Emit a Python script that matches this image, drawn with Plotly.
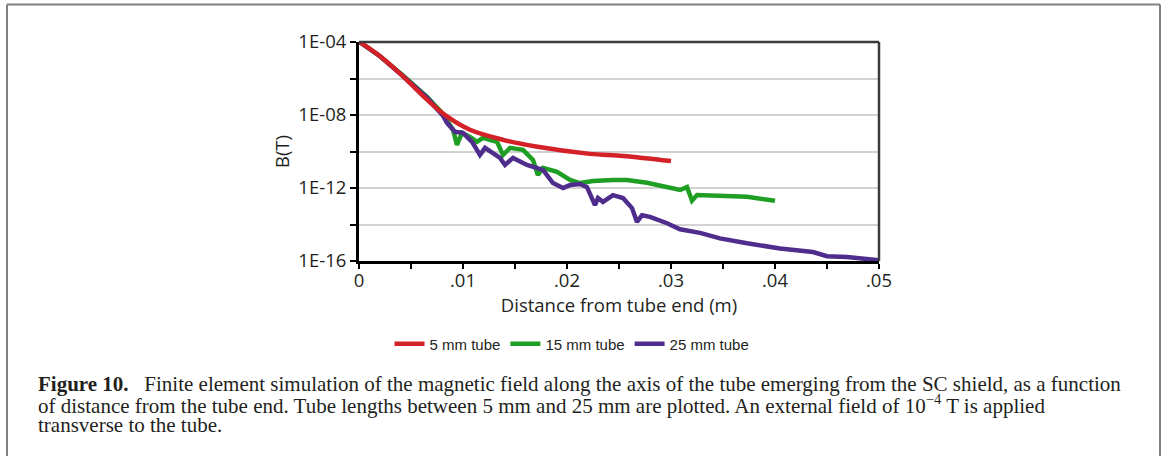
import plotly.graph_objects as go

# ---------------- data ----------------
x_5mm = [0, 0.00202, 0.00423, 0.00654, 0.00846, 0.01067, 0.01385, 0.01702, 0.0222, 0.0254, 0.0300]
b_5mm = [1.05e-4, 1.66e-5, 1.32e-6, 6.92e-8, 8.32e-9, 1.55e-9, 4.37e-10, 1.86e-10, 7.41e-11, 5.75e-11, 3.02e-11]

x_15mm = [0, 0.00202, 0.00423, 0.00654, 0.00808, 0.00875, 0.00904, 0.00942, 0.0099, 0.01067,
          0.01135, 0.01192, 0.01327, 0.01385, 0.01452, 0.01577, 0.01673, 0.0172, 0.01769, 0.01904,
          0.02029, 0.02125, 0.0225, 0.02442, 0.02577, 0.02769, 0.02962, 0.03087, 0.03154, 0.03202,
          0.0325, 0.03471, 0.03731, 0.0400]
b_15mm = [1.05e-4, 1.66e-5, 1.45e-6, 1.0e-7, 1.15e-8, 3.31e-9, 1.55e-9, 2.29e-10, 1.05e-9, 6.31e-10,
          3.39e-10, 5.62e-10, 3.39e-10, 6.46e-11, 1.58e-10, 1.23e-10, 3.47e-11, 5.13e-12, 1.26e-11, 7.59e-12,
          2.75e-12, 1.86e-12, 2.40e-12, 2.75e-12, 2.75e-12, 1.95e-12, 1.17e-12, 7.76e-13, 1.12e-12, 2.0e-13,
          4.07e-13, 3.72e-13, 3.31e-13, 2.0e-13]

x_25mm = [0, 0.00202, 0.00423, 0.00654, 0.00808, 0.00846, 0.00923, 0.0100, 0.01087, 0.01163,
          0.01212, 0.01356, 0.01404, 0.01481, 0.01615, 0.01769, 0.01865, 0.01962, 0.02029, 0.02125,
          0.02192, 0.02269, 0.02298, 0.02346, 0.02442, 0.02538, 0.02625, 0.02673, 0.02721, 0.02798,
          0.02962, 0.03087, 0.03279, 0.03471, 0.03731, 0.04048, 0.04365, 0.0450, 0.04692, 0.0500]
b_25mm = [1.05e-4, 1.66e-5, 1.35e-6, 8.91e-8, 9.12e-9, 3.72e-9, 1.20e-9, 1.05e-9, 3.39e-10, 6.46e-11,
          1.58e-10, 4.47e-11, 1.82e-11, 4.47e-11, 1.82e-11, 9.77e-12, 1.86e-12, 1.0e-12, 1.45e-12, 1.66e-12,
          1.12e-12, 1.15e-13, 2.82e-13, 1.74e-13, 4.07e-13, 2.82e-13, 7.94e-14, 1.38e-14, 3.24e-14, 2.63e-14,
          1.17e-14, 5.50e-15, 3.47e-15, 1.74e-15, 9.33e-16, 4.90e-16, 3.09e-16, 1.82e-16, 1.66e-16, 1.10e-16]

series_names = ["5 mm tube", "15 mm tube", "25 mm tube"]
series_colors = ["#d42027", "#1f9e24", "#4f2d8c"]

y_tickvals = [1e-4, 1e-6, 1e-8, 1e-10, 1e-12, 1e-14, 1e-16]
y_ticktext = ["1E-04", "", "1E-08", "", "1E-12", "", "1E-16"]
x_tickvals = [0, 0.01, 0.02, 0.03, 0.04, 0.05]
x_ticktext = ["0", ".01", ".02", ".03", ".04", ".05"]

caption_lines = [
    "<b>Figure 10.</b>\u00a0\u00a0 Finite element simulation of the magnetic field along the axis of the tube emerging from the SC shield, as a function",
    "of distance from the tube end. Tube lengths between 5 mm and 25 mm are plotted. An external field of 10<sup>\u22124</sup> T is applied",
    "transverse to the tube.",
]

# ---------------- layout geometry ----------------
W, H = 1165, 456
ML, MR, MT, MB = 359, 286, 42, 195
PW = W - ML - MR
PH = H - MT - MB


def px(xp):
    return (xp - ML) / PW


def py(yp):
    return (H - MB - yp) / PH


fig = go.Figure()
# draw order: 15 mm, 25 mm, then 5 mm on top; legend order via legendrank
draw_order = [1, 2, 0]
all_x = [x_5mm, x_15mm, x_25mm]
all_b = [b_5mm, b_15mm, b_25mm]
shapes_ = ["spline", "linear", "linear"]
for i in draw_order:
    fig.add_trace(go.Scatter(x=all_x[i], y=all_b[i], mode="lines", name=series_names[i],
                             legendrank=i + 1,
                             line=dict(color=series_colors[i], width=4.5, shape=shapes_[i])))

tick_font = dict(family="Open Sans", size=18.5, color="#231f20")
title_font = dict(family="Open Sans", size=18.5, color="#231f20")

fig.update_layout(
    width=W, height=H,
    margin=dict(l=ML, r=MR, t=MT, b=MB, pad=0),
    paper_bgcolor="white", plot_bgcolor="white",
    showlegend=True,
    legend=dict(orientation="h", x=px(572), xanchor="center", y=py(344), yanchor="middle",
                font=dict(family="Liberation Sans", size=15, color="#231f20"),
                traceorder="normal", itemwidth=30, bgcolor="rgba(0,0,0,0)"),
    xaxis=dict(range=[0, 0.05], tickvals=x_tickvals, ticktext=x_ticktext,
               showgrid=False, zeroline=False, showline=True, linecolor="black", linewidth=3,
               ticks="outside", ticklen=5, tickwidth=1.5, tickcolor="black",
               minor=dict(dtick=0.005, ticks="outside", ticklen=5, tickwidth=1.5, tickcolor="black"),
               tickfont=tick_font, ticklabelstandoff=-4,
               title=dict(text="Distance from tube end (m)", font=title_font, standoff=0)),
    yaxis=dict(type="log", range=[-16, -4], tickvals=y_tickvals, ticktext=y_ticktext,
               showgrid=True, gridcolor="#d2d2d2", gridwidth=1.5, zeroline=False,
               showline=True, linecolor="black", linewidth=3,
               ticks="outside", ticklen=6, tickwidth=1.5, tickcolor="black",
               tickfont=tick_font,
               title=dict(text="B(T)", font=title_font, standoff=4)),
)

# top/right frame of the plot area
fig.add_shape(type="line", xref="paper", yref="paper", x0=0, x1=1, y0=1, y1=1,
              line=dict(color="#3c3c3c", width=2.5))
fig.add_shape(type="line", xref="paper", yref="paper", x0=1, x1=1, y0=0, y1=1,
              line=dict(color="#3c3c3c", width=2.5))

# outer figure frame (gray)
frame = dict(color="#808080", width=2)
fig.add_shape(type="line", xref="paper", yref="paper", x0=px(7), x1=px(7), y0=py(4.5), y1=py(470), line=frame)
fig.add_shape(type="line", xref="paper", yref="paper", x0=px(7), x1=px(1160), y0=py(4.5), y1=py(4.5), line=frame)
fig.add_shape(type="line", xref="paper", yref="paper", x0=px(1160), x1=px(1160), y0=py(4.5), y1=py(470), line=frame)

# caption
baselines = [390.7, 411.2, 431.7]
for txt, bl in zip(caption_lines, baselines):
    fig.add_annotation(text=txt, xref="paper", yref="paper", x=px(36), y=py(bl - 6.5),
                       xanchor="left", yanchor="middle", showarrow=False, align="left",
                       font=dict(family="Liberation Serif", size=21, color="#231f20"))

fig.write_html("out.html")
